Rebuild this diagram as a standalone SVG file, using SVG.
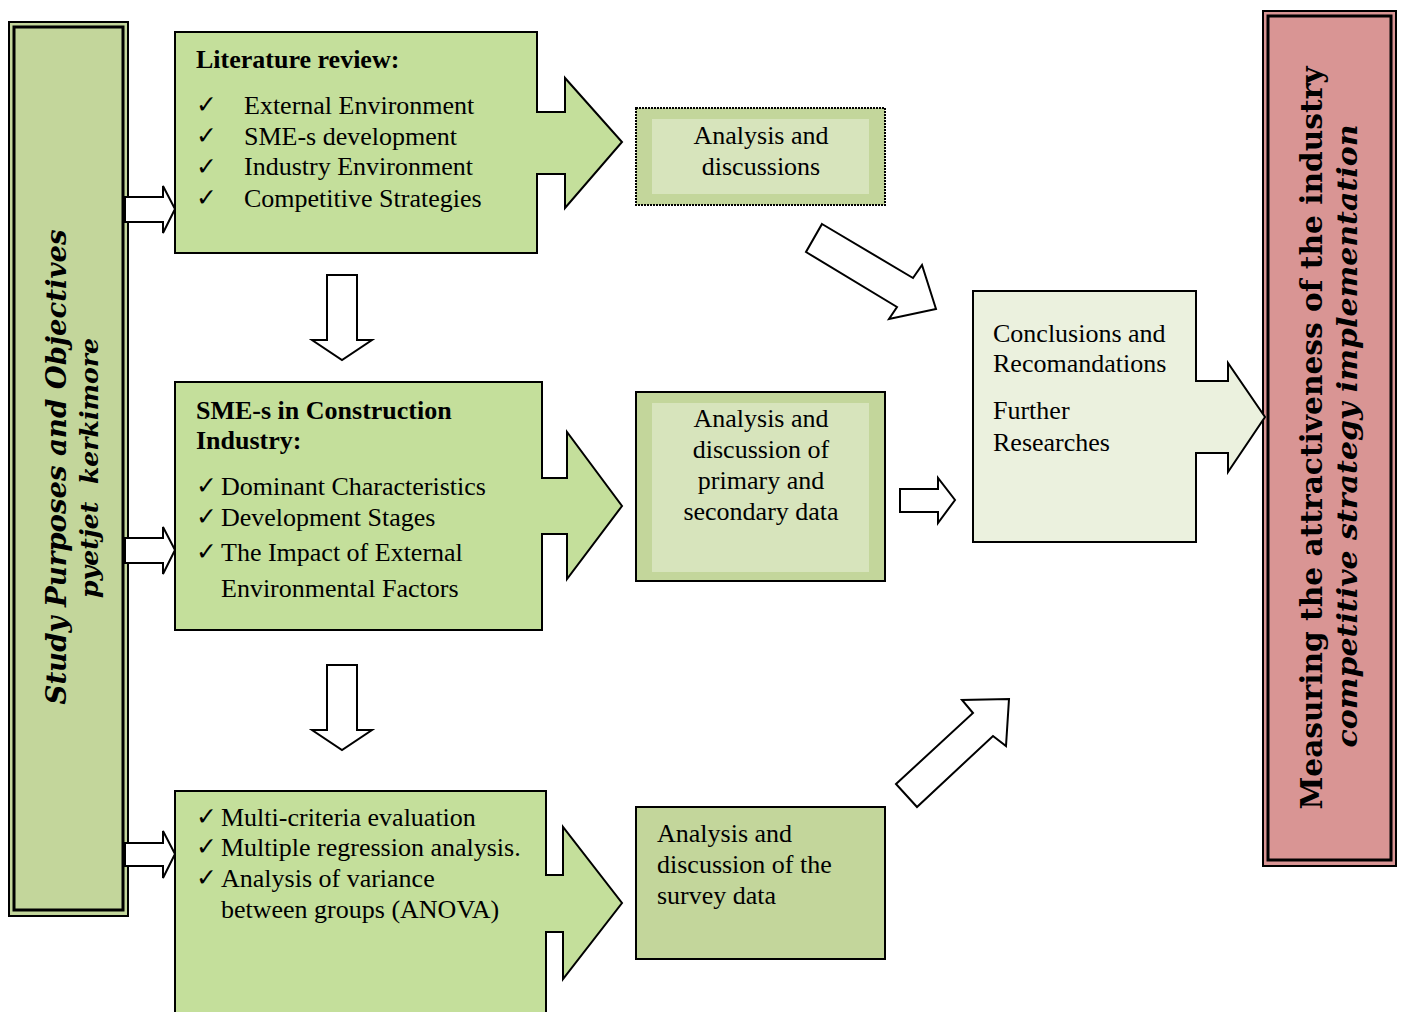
<svg xmlns="http://www.w3.org/2000/svg" width="1403" height="1012" viewBox="0 0 1403 1012">
<style>
.t{font-family:"Liberation Serif","Times New Roman",serif;font-size:26px;fill:#000}
.b{font-weight:bold}
.ck{font-family:"DejaVu Sans",sans-serif;font-size:25px;font-weight:bold;fill:#000}
.call{fill:#c4df9b;stroke:#000;stroke-width:2}
.conn{fill:#fff;stroke:#000;stroke-width:2;stroke-linejoin:miter}
.slab{font-family:"DejaVu Serif",serif;font-weight:bold;fill:#000}
</style>
<rect width="1403" height="1012" fill="#fff"/>

<g id="left-bar">
<rect x="9" y="22" width="119" height="894" fill="#c3d69b" stroke="#000" stroke-width="2"/>
<rect x="14" y="27" width="109" height="883" fill="none" stroke="#000" stroke-width="3"/>
<text class="slab" font-style="italic" font-size="27" transform="translate(66,467) rotate(-90)" text-anchor="middle" textLength="475" lengthAdjust="spacingAndGlyphs">Study Purposes and Objectives</text>
<text class="slab" font-style="italic" font-size="24" transform="translate(98,468) rotate(-90)" text-anchor="middle" textLength="260" lengthAdjust="spacingAndGlyphs" xml:space="preserve">pyetjet  kerkimore</text>
</g>

<g id="right-bar">
<rect x="1263" y="11" width="133" height="855" fill="#d99594" stroke="#000" stroke-width="2"/>
<rect x="1268" y="16" width="123" height="844" fill="none" stroke="#000" stroke-width="3"/>
<text class="slab" font-size="29" transform="translate(1322,438) rotate(-90)" text-anchor="middle" textLength="743" lengthAdjust="spacingAndGlyphs">Measuring the attractiveness of the industry</text>
<text class="slab" font-style="italic" font-size="28" transform="translate(1357,436) rotate(-90)" text-anchor="middle" textLength="623" lengthAdjust="spacingAndGlyphs">competitive strategy implementation</text>
</g>

<g id="literature-review">
<path class="call" d="M175,32 H537 V112 H565 V78 L622,142 L565,208 V174 H537 V253 H175 Z"/>
<text class="t b" x="196" y="68">Literature review:</text>
<text class="ck" x="196" y="113">✓</text><text class="t" x="244" y="114">External Environment</text>
<text class="ck" x="196" y="144">✓</text><text class="t" x="244" y="145">SME-s development</text>
<text class="ck" x="196" y="175">✓</text><text class="t" x="244" y="175">Industry Environment</text>
<text class="ck" x="196" y="206">✓</text><text class="t" x="244" y="207">Competitive Strategies</text>
</g>

<g id="sme-construction">
<path class="call" d="M175,382 H542 V478 H567 V432 L622,506 L567,579 V534 H542 V630 H175 Z"/>
<text class="t b" x="196" y="419">SME-s in Construction</text>
<text class="t b" x="196" y="449">Industry:</text>
<text class="ck" x="196" y="494">✓</text><text class="t" x="221" y="495">Dominant Characteristics</text>
<text class="ck" x="196" y="525">✓</text><text class="t" x="221" y="526">Development Stages</text>
<text class="ck" x="196" y="560">✓</text><text class="t" x="221" y="561">The Impact of External</text>
<text class="t" x="221" y="597">Environmental Factors</text>
</g>

<g id="methods">
<path class="call" d="M175,791 H546 V875 H563 V827 L622,903 L563,979 V932 H546 V1016 H175 Z"/>
<text class="ck" x="196" y="825">✓</text><text class="t" x="221" y="826">Multi-criteria evaluation</text>
<text class="ck" x="196" y="855">✓</text><text class="t" x="221" y="856">Multiple regression analysis.</text>
<text class="ck" x="196" y="886">✓</text><text class="t" x="221" y="887">Analysis of variance</text>
<text class="t" x="221" y="918">between groups (ANOVA)</text>
</g>

<g id="analysis-discussions">
<rect x="636" y="108" width="249" height="97" fill="#c3d69b" stroke="#000" stroke-width="2" stroke-dasharray="2,1"/>
<rect x="652" y="119" width="217" height="75" fill="#d7e4bc"/>
<text class="t" x="761" y="144" text-anchor="middle">Analysis and</text>
<text class="t" x="761" y="175" text-anchor="middle">discussions</text>
</g>

<g id="analysis-primary-secondary">
<rect x="636" y="392" width="249" height="189" fill="#c3d69b" stroke="#000" stroke-width="2"/>
<rect x="652" y="403" width="217" height="169" fill="#d7e4bc"/>
<text class="t" x="761" y="427" text-anchor="middle">Analysis and</text>
<text class="t" x="761" y="458" text-anchor="middle">discussion of</text>
<text class="t" x="761" y="489" text-anchor="middle">primary and</text>
<text class="t" x="761" y="520" text-anchor="middle">secondary data</text>
</g>

<g id="analysis-survey">
<rect x="636" y="807" width="249" height="152" fill="#c3d69b" stroke="#000" stroke-width="2"/>
<text class="t" x="657" y="842">Analysis and</text>
<text class="t" x="657" y="873">discussion of the</text>
<text class="t" x="657" y="904">survey data</text>
</g>

<g id="conclusions">
<path fill="#ebf1de" stroke="#000" stroke-width="2" d="M973,291 H1196 V381 H1228 V363 L1265,417 L1228,472 V453 H1196 V542 H973 Z"/>
<text class="t" x="993" y="342">Conclusions and</text>
<text class="t" x="993" y="372">Recomandations</text>
<text class="t" x="993" y="419">Further</text>
<text class="t" x="993" y="451">Researches</text>
</g>

<g id="connectors">
<path class="conn" d="M125,197 H163 V186 L175,209 L163,233 V222 H125 Z"/>
<path class="conn" d="M125,538 H163 V527 L175,550 L163,574 V563 H125 Z"/>
<path class="conn" d="M125,843 H163 V831 L175,854 L163,878 V866 H125 Z"/>
<path class="conn" d="M327,275 H357 V340 H372 L342,360 L312,340 H327 Z"/>
<path class="conn" d="M327,665 H357 V730 H372 L342,750 L312,730 H327 Z"/>
<path class="conn" d="M900,489 H938 V478 L955,500 L938,523 V512 H900 Z"/>
<path class="conn" d="M822,224 L913,278 L922,265 L936,309 L889,319 L897,307 L806,252 Z"/>
<path class="conn" d="M896,784 L973,713 L962,700 L1009,699 L1006,746 L993,736 L917,807 Z"/>
</g>
</svg>
